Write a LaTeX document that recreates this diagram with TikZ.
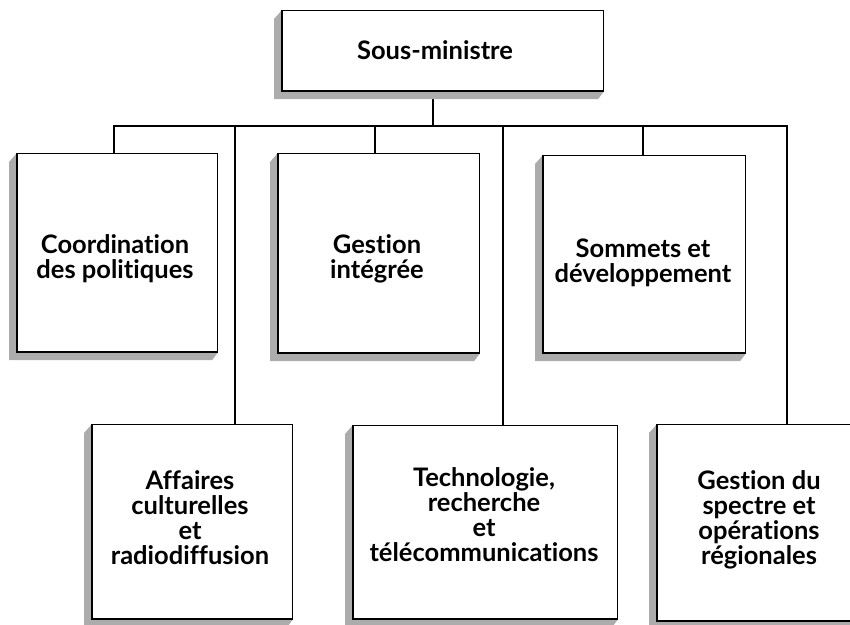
\documentclass[tikz,border=0pt]{standalone}
\usepackage{fontspec}
\setmainfont[Ligatures=NoCommon]{Lato}
\usetikzlibrary{calc}
\newcommand\boxshade[1]{%
  \fill[gray!65] (#1.north west) -- ++(-8,-9) -- ($(#1.south west)+(-8,-8)$) -- ($(#1.south east)+(-6,-8)$) -- (#1.south east) -- (#1.south west) -- cycle;
  \draw[line width=2.2pt] (#1.north west) -- (#1.south west) -- (#1.south east);}
\begin{document}
\begin{tikzpicture}[x=1pt,y=1pt,
  face/.style={draw=black, line width=1.1pt, fill=white, inner sep=0pt, anchor=north west},
  lbl/.style={font=\fontsize{25.5}{25}\selectfont\bfseries, align=center, inner sep=0pt},
  wire/.style={line width=1.6pt, line join=miter}]
\useasboundingbox (0,0) rectangle (850,-624);
% bus junctions
\coordinate (j0) at (433,-126);
\coordinate (j1) at (114,-126);
\coordinate (j2) at (375,-126);
\coordinate (j3) at (643,-126);
\coordinate (j4) at (235,-126);
\coordinate (j5) at (503,-126);
\coordinate (j6) at (787,-126);
% boxes (faces)
\node[face, minimum width=321, minimum height=80] (top) at (282,-10) {};
\node[face, minimum width=200, minimum height=198] (b1) at (17,-153) {};
\node[face, minimum width=201, minimum height=199] (b2) at (278,-153) {};
\node[face, minimum width=202, minimum height=197] (b3) at (543,-155) {};
\node[face, minimum width=200, minimum height=194] (b4) at (92,-424) {};
\node[face, minimum width=264, minimum height=193] (b5) at (353,-425) {};
\node[face, minimum width=196, minimum height=196] (b6) at (657,-424) {};
% connectors
\draw[wire] (j0) -- (j0 |- top.south);
\draw[wire] (j1 |- b1.north) -- (j1) -- (j6) -- (j6 |- b6.north);
\draw[wire] (j2) -- (j2 |- b2.north);
\draw[wire] (j3) -- (j3 |- b3.north);
\draw[wire] (j4) -- (j4 |- b4.north);
\draw[wire] (j5) -- (j5 |- b5.north);
% shadows
\boxshade{top}
\boxshade{b1}
\boxshade{b2}
\boxshade{b3}
\boxshade{b4}
\boxshade{b5}
\boxshade{b6}
% labels
\node[lbl] (t0) at (435,-50) {Sous-ministre};
\node[lbl] (t1) at (115,-259) {Coordination\\des politiques};
\node[lbl] (t2) at (377,-259) {Gestion\\intégrée};
\node[lbl] (t3) at (643,-263) {Sommets et\\développement};
\node[lbl] (t4) at (190,-518) {Affaires\\culturelles\\et\\radiodiffusion};
\node[lbl] (t5) at (484,-515) {Technologie,\\recherche\\et\\télécommunications};
\node[lbl] (t6) at (759,-520) {Gestion du\\spectre et\\opérations\\régionales};
\end{tikzpicture}
\end{document}
